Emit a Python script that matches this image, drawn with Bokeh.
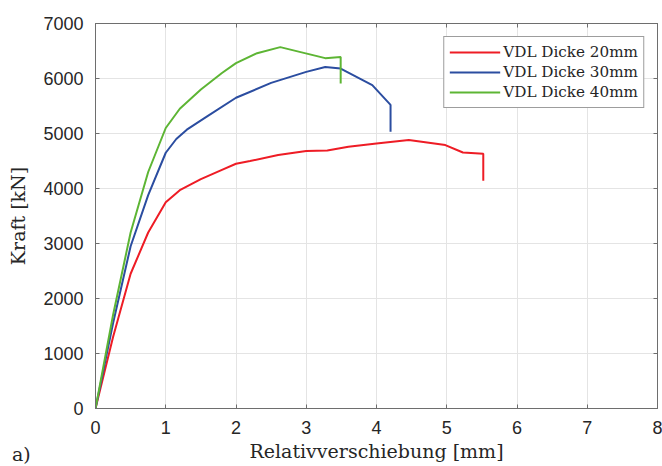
from bokeh.plotting import figure
from bokeh.layouts import column
from bokeh.models import (Range1d, FixedTicker, Legend, LegendItem, LinearAxis, Div)
from bokeh.embed import file_html
from bokeh.resources import INLINE

# ---- data ----
x_20 = [0, 0.25, 0.5, 0.75, 1.0, 1.2, 1.5, 1.8, 2.0, 2.2, 2.6, 3.0, 3.3, 3.6, 4.0, 4.46, 4.98, 5.23, 5.52, 5.52]
y_20 = [0, 1300, 2450, 3200, 3750, 3970, 4170, 4340, 4450, 4500, 4610, 4680, 4690, 4760, 4820, 4880, 4790, 4655, 4630, 4140]

x_30 = [0, 0.25, 0.5, 0.75, 1.0, 1.15, 1.3, 1.6, 2.0, 2.5, 3.0, 3.27, 3.49, 3.94, 4.2, 4.2]
y_30 = [0, 1550, 2950, 3880, 4650, 4900, 5070, 5320, 5650, 5920, 6120, 6210, 6180, 5880, 5520, 5030]

x_40 = [0, 0.25, 0.5, 0.75, 1.0, 1.2, 1.5, 1.8, 2.0, 2.3, 2.63, 2.92, 3.27, 3.49, 3.49]
y_40 = [0, 1700, 3200, 4300, 5100, 5450, 5800, 6100, 6280, 6460, 6570, 6480, 6370, 6390, 5910]

labels = ["VDL Dicke 20mm", "VDL Dicke 30mm", "VDL Dicke 40mm"]
x_ticks = [0, 1, 2, 3, 4, 5, 6, 7, 8]
y_ticks = [0, 1000, 2000, 3000, 4000, 5000, 6000, 7000]
x_title = "Relativverschiebung [mm]"
y_title = "Kraft [kN]"
panel_tag = "a)"

# ---- styling ----
colors = ["#ee1c25", "#2b4da0", "#5db534"]
axis_col = "#6e6e6e"
text_col = "#262626"
serif = "DejaVu Serif"
sans = "Liberation Sans"

p = figure(width=662, height=466, output_backend="svg", toolbar_location=None,
           x_range=Range1d(0, 8), y_range=Range1d(0, 7000),
           min_border_left=95, min_border_right=5, min_border_top=23, min_border_bottom=58)
p.background_fill_color = "white"
p.border_fill_color = "white"
p.outline_line_color = axis_col
p.outline_line_width = 1

for ax, ticks in ((p.xaxis[0], x_ticks), (p.yaxis[0], y_ticks)):
    ax.ticker = FixedTicker(ticks=ticks)
    ax.minor_tick_line_color = None
    ax.major_tick_in = 4
    ax.major_tick_out = 0
    ax.axis_line_color = axis_col
    ax.major_tick_line_color = axis_col
    ax.major_label_text_font = sans
    ax.major_label_text_font_size = "18px"
    ax.major_label_text_color = text_col
    ax.axis_label_text_font = serif
    ax.axis_label_text_font_size = "19px"
    ax.axis_label_text_font_style = "normal"
    ax.axis_label_text_color = text_col

p.xaxis.axis_label = x_title
p.yaxis.axis_label = y_title
p.xaxis.major_label_standoff = 12
p.xaxis.axis_label_standoff = 3
p.yaxis.major_label_standoff = 12
p.yaxis.axis_label_standoff = 11

# mirrored ticks on top and right (box on), without labels
for loc, ticks in (("right", y_ticks), ("above", x_ticks)):
    ax2 = LinearAxis(ticker=FixedTicker(ticks=ticks), major_label_text_font_size="0px",
                     major_label_text_color=None, major_label_text_alpha=0,
                     major_label_standoff=0, major_tick_in=4, major_tick_out=0,
                     minor_tick_line_color=None, axis_line_color=axis_col,
                     major_tick_line_color=axis_col)
    p.add_layout(ax2, loc)

p.grid.grid_line_color = "#e4e4e4"
p.grid.grid_line_width = 1
p.xgrid.ticker = FixedTicker(ticks=x_ticks)
p.ygrid.ticker = FixedTicker(ticks=y_ticks)

r1 = p.line(x_20, y_20, line_color=colors[0], line_width=2)
r2 = p.line(x_30, y_30, line_color=colors[1], line_width=2)
r3 = p.line(x_40, y_40, line_color=colors[2], line_width=2)

legend = Legend(items=[LegendItem(label=labels[0], renderers=[r1]),
                       LegendItem(label=labels[1], renderers=[r2]),
                       LegendItem(label=labels[2], renderers=[r3])],
                location="top_right")
legend.margin = 13
legend.padding = 5
legend.spacing = 0
legend.glyph_width = 51
legend.glyph_height = 20
legend.label_height = 20
legend.label_standoff = 3
legend.label_text_font = serif
legend.label_text_font_size = "15.2px"
legend.label_text_color = text_col
legend.border_line_color = "#3c3c3c"
legend.border_line_width = 1
legend.background_fill_color = "white"
legend.background_fill_alpha = 1
p.add_layout(legend)

# panel tag "a)" overlapping the lower-left corner of the figure
tag = Div(text=('<span style="font-family:\'DejaVu Serif\';font-size:19px;'
                'line-height:24px;color:%s;white-space:nowrap">%s</span>' % (text_col, panel_tag)),
          width=30, height=24, margin=(-24, 0, 0, 12),
          styles={"position": "relative", "z-index": "10", "font-family": "DejaVu Serif",
                  "font-size": "19px", "line-height": "24px", "color": text_col,
                  "background": "transparent"})

layout = column(p, tag, spacing=0)

open("out.html", "w").write(file_html(layout, INLINE))
